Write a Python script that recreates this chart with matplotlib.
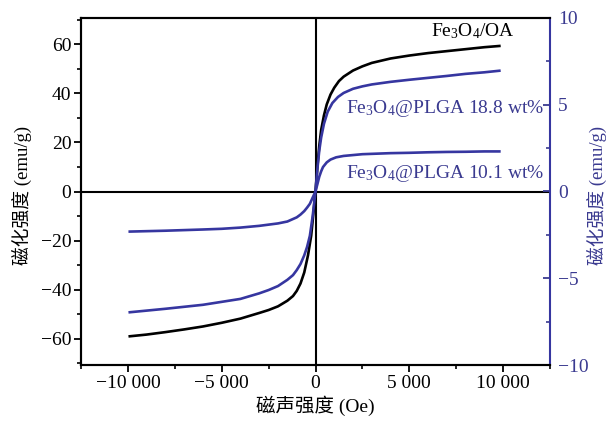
import matplotlib
matplotlib.use("Agg")
import matplotlib.pyplot as plt
from matplotlib.ticker import MultipleLocator, FuncFormatter

plt.rcParams['font.family'] = ['Liberation Serif', 'Noto Sans CJK SC', 'DejaVu Sans']
plt.rcParams['mathtext.fontset'] = 'custom'
plt.rcParams['mathtext.rm'] = 'Liberation Serif'
plt.rcParams['mathtext.it'] = 'Liberation Serif'

# Fe3O4/OA (left axis, emu/g)
H_oa = [-9900, -9000, -8000, -7000, -6000, -5000, -4000, -3000, -2500, -2000, -1500, -1200, -1000, -800, -600, -400, -230, -100, 0,
        100, 200, 300, 450, 600, 800, 1000, 1250, 1500, 2000, 2500, 3000, 4000, 5000, 6000, 7000, 8000, 9000, 9800]
M_oa = [-59, -58.3, -57.3, -56.2, -55, -53.5, -51.8, -49.5, -48.3, -46.8, -44.5, -42.6, -40.5, -37.5, -33, -26, -18, -8, 0,
        10, 18.5, 25, 31, 35.5, 39.5, 42.3, 45, 46.8, 49.3, 51, 52.4, 54.2, 55.4, 56.4, 57.2, 58, 58.8, 59.3]

# Fe3O4@PLGA 18.8 wt% (right axis, emu/g)
H_188 = [-9900, -8000, -6000, -5000, -4000, -3000, -2500, -2000, -1500, -1200, -1000, -800, -600, -450, -300, -150, 0,
         100, 200, 300, 450, 650, 900, 1200, 1500, 2000, 2500, 3000, 4000, 5000, 6000, 7000, 8000, 9000, 9800]
M_188 = [-6.96, -6.76, -6.53, -6.36, -6.19, -5.87, -5.68, -5.45, -5.09, -4.82, -4.53, -4.18, -3.68, -3.2, -2.55, -1.41, 0,
         1.3, 2.35, 3.1, 3.9, 4.6, 5.1, 5.45, 5.68, 5.92, 6.06, 6.17, 6.32, 6.44, 6.55, 6.66, 6.78, 6.87, 6.96]

# Fe3O4@PLGA 10.1 wt% (right axis, emu/g)
H_101 = [-9900, -8000, -6000, -5000, -4000, -3000, -2000, -1500, -1000, -800, -600, -450, -300, -150, 0,
         100, 200, 300, 400, 600, 800, 1100, 1500, 2000, 2500, 4000, 5000, 6000, 7000, 8000, 9000, 9800]
M_101 = [-2.31, -2.26, -2.19, -2.15, -2.08, -1.98, -1.84, -1.73, -1.49, -1.33, -1.13, -0.93, -0.71, -0.35, 0,
         0.42, 0.85, 1.16, 1.41, 1.68, 1.84, 1.97, 2.05, 2.1, 2.15, 2.21, 2.23, 2.26, 2.28, 2.29, 2.31, 2.31]

BLUE = '#3636a0'
BLUE_TXT = '#3a3a90'
FS = 14

fig = plt.figure(figsize=(6.09, 4.21), dpi=100)
ax = fig.add_axes([81/609, 1-365/421, (550-81)/609, (365-18)/421])
ax2 = ax.twinx()

ax.axhline(0, color='black', lw=1.5, zorder=1)
ax.axvline(0, color='black', lw=1.5, zorder=1)

ax.plot(H_oa, M_oa, color='black', lw=1.9, zorder=3)
ax2.plot(H_188, M_188, color=BLUE, lw=1.9, zorder=3)
ax2.plot(H_101, M_101, color=BLUE, lw=1.9, zorder=3)

ax.set_xlim(-12500, 12500)
ax.set_ylim(-70.7, 70.7)
ax2.set_ylim(-10, 10)

def minus_fmt(v, pos):
    s = f"{int(round(abs(v))):,}".replace(",", " ")
    return ("\u2212" if v < 0 else "") + s

ax.xaxis.set_major_locator(MultipleLocator(5000))
ax.xaxis.set_minor_locator(MultipleLocator(2500))
ax.xaxis.set_major_formatter(FuncFormatter(minus_fmt))
ax.yaxis.set_major_locator(MultipleLocator(20))
ax.yaxis.set_minor_locator(MultipleLocator(10))
ax.yaxis.set_major_formatter(FuncFormatter(minus_fmt))
ax2.yaxis.set_major_locator(MultipleLocator(5))
ax2.yaxis.set_minor_locator(MultipleLocator(2.5))
ax2.yaxis.set_major_formatter(FuncFormatter(minus_fmt))

ax.tick_params(axis='both', which='major', direction='out', length=5, width=1.3, labelsize=FS,
               colors='black', pad=2)
ax.tick_params(axis='both', which='minor', direction='out', length=3, width=1.2)
ax.tick_params(axis='x', which='both', top=False)
ax2.tick_params(axis='y', which='major', direction='in', length=5, width=1.3, labelsize=FS,
                colors=BLUE_TXT, pad=6)
ax2.tick_params(axis='y', which='minor', direction='in', length=3, width=1.2, colors=BLUE_TXT)

for s in ['left', 'bottom', 'top']:
    ax.spines[s].set_linewidth(1.5)
    ax2.spines[s].set_linewidth(1.5)
ax.spines['right'].set_visible(False)
ax2.spines['right'].set_color(BLUE)
ax2.spines['right'].set_linewidth(1.5)

ax.set_ylabel('磁化强度 (emu/g)', fontsize=13.5, va='center')
ax.yaxis.set_label_coords(-0.126, 0.49)
ax2.set_ylabel('磁化强度 (emu/g)', fontsize=13.5, color=BLUE_TXT, va='center')
ax2.yaxis.set_label_coords(1.100, 0.49)
ax.set_xlabel('磁声强度 (Oe)', fontsize=FS, labelpad=3)

ax.text(8400, 65.5, r'Fe$_3$O$_4$/OA', fontsize=FS, ha='center', va='center', color='black')
ax.text(1650, 34, r'Fe$_3$O$_4$@PLGA 18.8 wt%', fontsize=FS, ha='left', va='center', color=BLUE_TXT)
ax.text(1650, 7.5, r'Fe$_3$O$_4$@PLGA 10.1 wt%', fontsize=FS, ha='left', va='center', color=BLUE_TXT)

fig.savefig('out.png', dpi=100)
